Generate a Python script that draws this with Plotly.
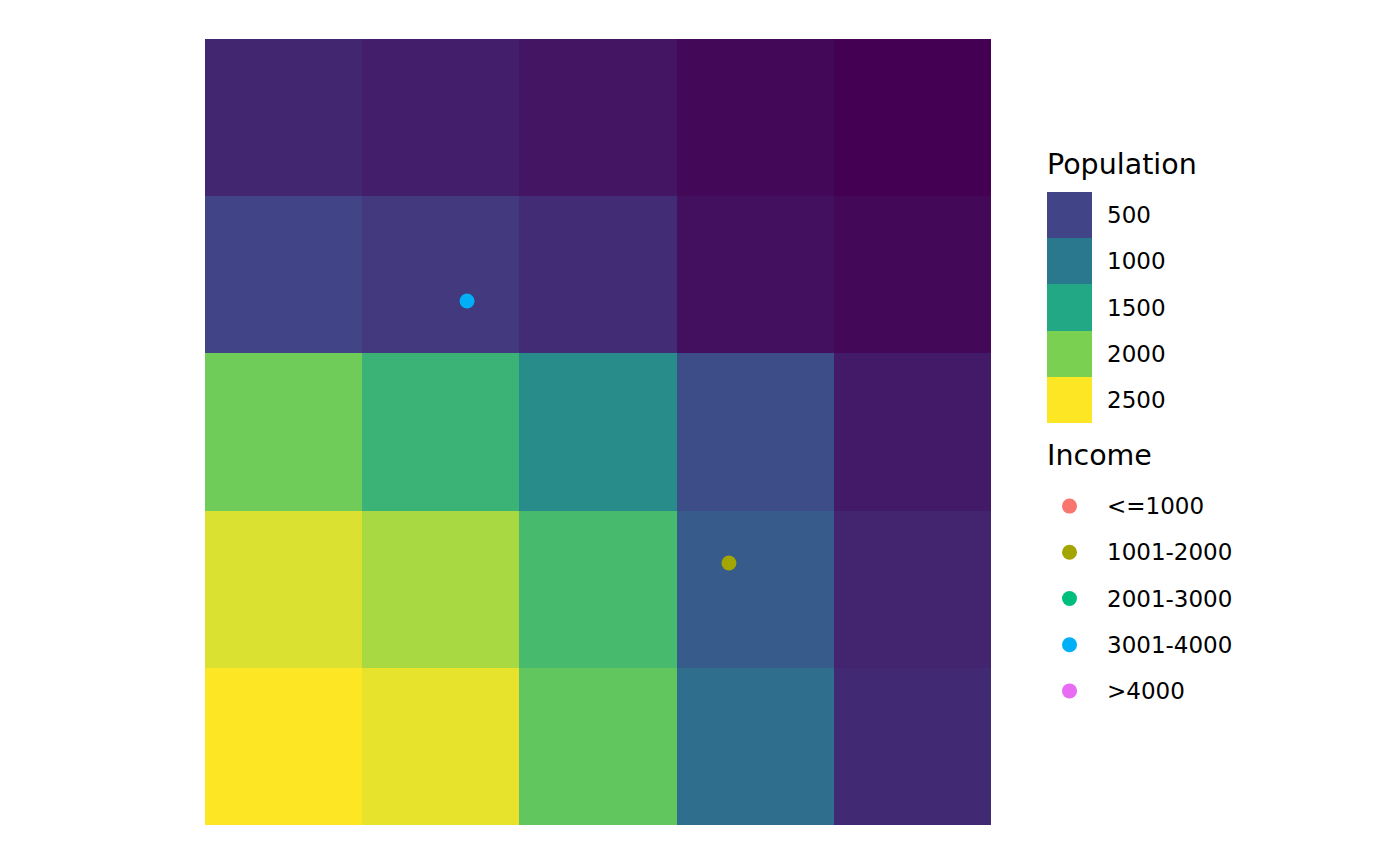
import plotly.graph_objs as go

# population grid, rows from top to bottom, columns left to right
col_x = [0.5, 1.5, 2.5, 3.5, 4.5]
row_y = [4.5, 3.5, 2.5, 1.5, 0.5]
population = [
    [275, 225, 150, 50, 0],
    [500, 415, 320, 112, 50],
    [1935, 1640, 1210, 585, 185],
    [2370, 2175, 1715, 725, 260],
    [2500, 2415, 1862, 900, 300],
]

# sample points with an income class
point_x = [1.667, 3.333]
point_y = [3.333, 1.667]
point_income = ['3001-4000', '1001-2000']

income_levels = ['<=1000', '1001-2000', '2001-3000', '3001-4000', '>4000']
income_colors = ['#F8766D', '#A3A500', '#00BF7D', '#00B0F6', '#E76BF3']

pop_breaks = [500, 1000, 1500, 2000, 2500]
pop_min, pop_max = 0, 2500

# viridis(6) stops, interpolated between
viridis6 = ['#440154', '#414487', '#2A788E', '#22A884', '#7AD151', '#FDE725']
colorscale = [[i / 5, c] for i, c in enumerate(viridis6)]

FONT = 'DejaVu Sans'
color_of = dict(zip(income_levels, income_colors))

# page puts the plot 8px in from the top left corner
def px_x(x):
    return (x - 8) / 1400

def px_y(y):
    return (873 - y) / 865

data = []
# main raster
data.append(go.Heatmap(x=col_x, y=row_y, z=population, colorscale=colorscale,
                       zmin=pop_min, zmax=pop_max, showscale=False,
                       xaxis='x', yaxis='y'))
data.append(go.Scatter(x=point_x, y=point_y, mode='markers',
                       marker=dict(size=15, color=[color_of[c] for c in point_income]),
                       xaxis='x', yaxis='y', showlegend=False))

# population legend keys
data.append(go.Heatmap(x=[0], y=list(range(len(pop_breaks))),
                       z=[[b] for b in pop_breaks], colorscale=colorscale,
                       zmin=pop_min, zmax=pop_max, showscale=False,
                       xaxis='x2', yaxis='y2'))
# income legend dots
data.append(go.Scatter(x=[0] * len(income_levels), y=list(range(len(income_levels))),
                       mode='markers', marker=dict(size=15, color=income_colors),
                       xaxis='x3', yaxis='y3', showlegend=False))

hidden = dict(showgrid=False, zeroline=False, showticklabels=False, ticks='', showline=False)

annotations = [
    dict(text='Population', x=px_x(1045), y=px_y(165), xref='paper', yref='paper',
         xanchor='left', yanchor='middle', showarrow=False, font=dict(size=28.5, color='black')),
    dict(text='Income', x=px_x(1045), y=px_y(456), xref='paper', yref='paper',
         xanchor='left', yanchor='middle', showarrow=False, font=dict(size=28.5, color='black')),
]
for i, b in enumerate(pop_breaks):
    annotations.append(dict(text=str(b), x=px_x(1105), y=i, xref='paper', yref='y2',
                            xanchor='left', yanchor='middle', showarrow=False,
                            font=dict(size=23, color='black')))
for i, lev in enumerate(income_levels):
    annotations.append(dict(text=lev, x=px_x(1105), y=i, xref='paper', yref='y3',
                            xanchor='left', yanchor='middle', showarrow=False,
                            font=dict(size=23, color='black')))

layout = go.Layout(
    width=1400, height=865,
    margin=dict(l=0, r=0, t=0, b=0),
    paper_bgcolor='white', plot_bgcolor='white',
    font=dict(family=FONT),
    showlegend=False,
    xaxis=dict(domain=[px_x(205), px_x(991)], range=[0, 5], **hidden),
    yaxis=dict(domain=[px_y(825), px_y(39)], range=[0, 5], **hidden),
    xaxis2=dict(domain=[px_x(1047), px_x(1092)], range=[-0.5, 0.5], anchor='y2', **hidden),
    yaxis2=dict(domain=[px_y(423), px_y(192)], range=[4.5, -0.5], anchor='x2', **hidden),
    xaxis3=dict(domain=[px_x(1047), px_x(1092)], range=[-0.5, 0.5], anchor='y3', **hidden),
    yaxis3=dict(domain=[px_y(714), px_y(483)], range=[4.5, -0.5], anchor='x3', **hidden),
    annotations=annotations,
)

fig = go.Figure(data=data, layout=layout)
fig.write_html('out.html')
